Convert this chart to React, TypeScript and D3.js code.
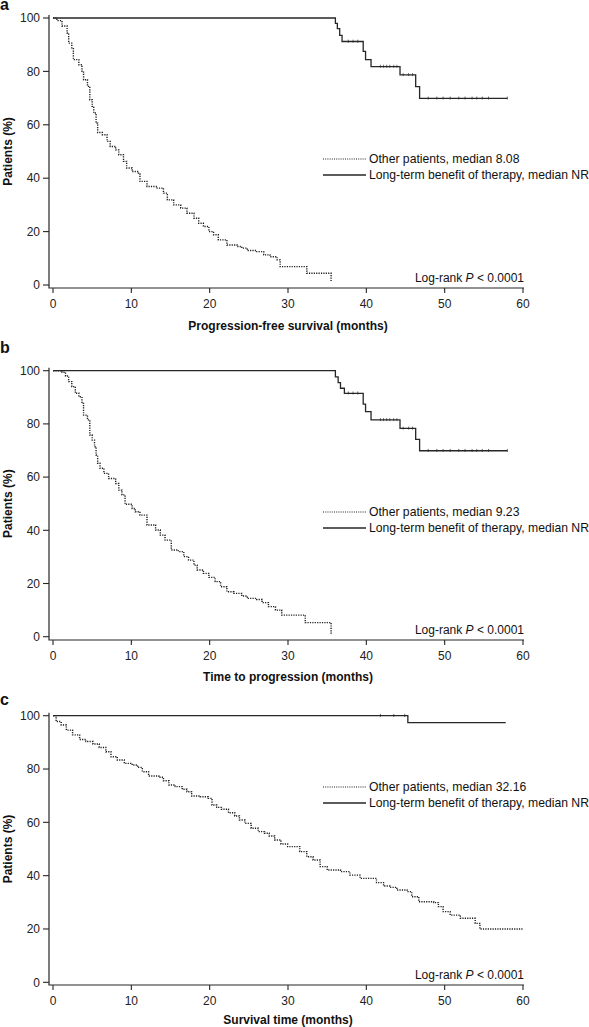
import React from "react";
import * as d3 from "d3";

// ---------- DATA ----------
const xTicks = [0, 10, 20, 30, 40, 50, 60];
const yTicks = [0, 20, 40, 60, 80, 100];

// Panel a: progression-free survival
const pfsOtherT = [0, 0.5, 1.15, 1.8, 2.0, 2.4, 2.6, 3.3, 3.7, 3.9, 4.4, 4.7, 5.0, 5.2, 5.5, 5.7, 6.3, 6.9, 7.3, 8.0, 8.4, 9.0, 9.4, 10.1, 10.9, 11.1, 12.0, 13.3, 14.1, 14.6, 15.4, 16.3, 17.1, 18.0, 18.6, 19.2, 19.9, 20.5, 21.1, 22.2, 23.5, 24.1, 24.8, 26.0, 26.9, 27.7, 28.6, 29.0, 32.4, 35.5];
const pfsOtherS = [100, 99, 97, 94.4, 90.6, 88.8, 84.4, 82.5, 80, 76.9, 74.4, 69.4, 66.9, 64.4, 60.6, 57.1, 56.3, 53.8, 51.9, 50.6, 48.8, 46.3, 43.8, 42.5, 41.6, 38.8, 36.9, 36.3, 34.4, 31.9, 30, 28.8, 26.9, 25, 23.1, 21.9, 20, 18.8, 16.9, 15, 14.4, 13.8, 12.9, 12.5, 11.3, 10.6, 9.4, 6.9, 4.4, 1.2];
const pfsLongT = [0, 36.05, 36.3, 36.6, 36.9, 39.6, 39.9, 40.6, 44.3, 46.3, 46.8, 58.0];
const pfsLongS = [100, 98, 96, 93.5, 91.2, 87.5, 84.4, 81.8, 78.7, 74.3, 69.9, 69.9];
const pfsLongCensor = [37.7, 38.3, 38.9, 41.8, 42.2, 42.6, 43.0, 43.5, 43.9, 44.7, 45.4, 45.9, 47.9, 49.0, 49.8, 50.7, 51.8, 52.6, 53.5, 54.1, 54.8, 55.6, 58.0];

// Panel b: time to progression
const ttpOtherT = [0, 1.15, 1.6, 2.0, 2.4, 2.85, 3.3, 3.7, 3.9, 4.4, 4.7, 5.0, 5.3, 5.5, 5.7, 6.0, 6.5, 7.1, 8.0, 8.4, 8.8, 9.2, 10.1, 10.5, 11.1, 12.0, 13.1, 13.7, 14.3, 15.1, 16.0, 16.7, 17.3, 18.0, 18.4, 19.2, 19.9, 20.7, 21.4, 22.2, 23.1, 24.1, 24.8, 26.0, 26.7, 27.5, 28.4, 29.2, 32.2, 35.5];
const ttpOtherS = [100, 99.4, 98, 95.9, 94, 91.5, 90.2, 87.7, 83.3, 81.5, 75.8, 73.9, 71.4, 68.3, 65.2, 63.3, 61.4, 59.5, 57.6, 55.1, 53.3, 49.8, 48.2, 47, 45.7, 42, 40.1, 38.2, 36.3, 32.6, 32, 30.1, 28.8, 26.9, 25.1, 23.8, 22.3, 20.7, 18.8, 16.9, 16.3, 15.3, 14.4, 14.0, 12.8, 11.3, 10.0, 8.1, 5.3, 0.6];
const ttpLongT = [0, 36.05, 36.4, 36.7, 37.2, 39.6, 39.9, 40.6, 44.3, 46.3, 46.8, 58.0];
const ttpLongS = [100, 97.7, 95.5, 93.4, 91.5, 87.4, 84.6, 81.5, 78.3, 74.2, 69.9, 69.9];
const ttpLongCensor = [37.7, 38.3, 38.9, 41.8, 42.2, 42.6, 43.0, 43.5, 43.9, 44.7, 45.4, 45.9, 47.9, 49.0, 49.8, 50.7, 51.8, 52.6, 53.5, 54.1, 54.8, 55.6, 58.0];

// Panel c: overall survival
const osOtherT = [0, 0.4, 1.05, 1.7, 2.5, 3.4, 4.2, 5.1, 5.9, 6.75, 7.4, 8.2, 9.1, 10.1, 10.8, 11.4, 12.2, 13.5, 14.1, 14.8, 15.6, 16.5, 17.1, 17.7, 18.8, 19.8, 20.3, 20.9, 21.5, 22.4, 23.2, 23.8, 24.5, 25.3, 26.2, 27.0, 27.6, 28.3, 29.1, 29.95, 31.5, 32.4, 33.2, 34.1, 35.0, 36.7, 37.9, 39.2, 41.3, 42.2, 43.0, 43.9, 45.2, 45.8, 46.7, 48.6, 49.2, 49.8, 50.7, 52.0, 53.9, 54.5, 60.0];
const osOtherS = [100, 97.8, 96.5, 94.6, 92.8, 91.1, 90.3, 89.4, 88.1, 86.5, 84.6, 83.4, 82.1, 81.5, 80.6, 79, 77.4, 76.9, 75.6, 74, 73.4, 72.4, 71.5, 69.9, 69.6, 69, 66.5, 65.6, 64.9, 63.6, 62.4, 60.9, 59.6, 57.8, 56.5, 55.9, 54.9, 53.4, 51.9, 50.9, 49, 47.1, 45.9, 43.4, 42.1, 41.5, 40.2, 39, 37.4, 36.1, 35.6, 34.6, 34.0, 32.1, 30.2, 29.9, 28.4, 26.5, 25.2, 24.0, 22.1, 20.0, 20.0];
const osLongT = [0, 45.3, 57.8];
const osLongS = [100, 97.4, 97.4];
const osLongCensor = [41.8, 43.5, 44.9];

const panelLetters = ["a", "b", "c"];
const axisTitles = ["Progression-free survival (months)", "Time to progression (months)", "Survival time (months)"];
const otherMedians = ["8.08", "9.23", "32.16"];
const seriesNames = ["Other patients, median ", "Long-term benefit of therapy, median NR"];

// ---------- LAYOUT ----------
const W = 589, H = 1027;
const FONT = "'Liberation Sans', Arial, Helvetica, sans-serif";
const INK = "#262626";

const layouts = [
  { top: 18, bottom: 285, axisY: 288, legendY: 159, letterY: 10, titleDy: 41.5 },
  { top: 370.7, bottom: 636.7, axisY: 640, legendY: 512, letterY: 353, titleDy: 40.5 },
  { top: 715.7, bottom: 982.3, axisY: 985, legendY: 787, letterY: 705, titleDy: 38.5 },
];

const panelData = [
  { oT: pfsOtherT, oS: pfsOtherS, lT: pfsLongT, lS: pfsLongS, c: pfsLongCensor },
  { oT: ttpOtherT, oS: ttpOtherS, lT: ttpLongT, lS: ttpLongS, c: ttpLongCensor },
  { oT: osOtherT, oS: osOtherS, lT: osLongT, lS: osLongS, c: osLongCensor },
];

const x = d3.scaleLinear().domain([0, 60]).range([53, 523]);

function stepValue(T: number[], S: number[], t: number) {
  let v = S[0];
  for (let i = 0; i < T.length; i++) if (T[i] <= t) v = S[i];
  return v;
}

function Panel({ idx }: { idx: number }) {
  const L = layouts[idx];
  const D = panelData[idx];
  const y = d3.scaleLinear().domain([0, 100]).range([L.bottom, L.top]);
  const line = d3
    .line<[number, number]>()
    .x((d) => x(d[0]))
    .y((d) => y(d[1]))
    .curve(d3.curveStepAfter);
  const other = line(D.oT.map((t, i) => [t, D.oS[i]] as [number, number])) || "";
  const long = line(D.lT.map((t, i) => [t, D.lS[i]] as [number, number])) || "";
  const axisX = 49;
  return (
    <g>
      <text x={0} y={L.letterY} fontFamily={FONT} fontWeight="bold" fontSize={16} fill="#111">
        {panelLetters[idx]}
      </text>
      {/* axes */}
      <path d={`M${axisX},${L.top - 3}V${L.axisY}H${x(60) + 1}`} fill="none" stroke={INK} strokeWidth={1.2} />
      {yTicks.map((t) => (
        <g key={"y" + t}>
          <line x1={axisX - 6} x2={axisX} y1={y(t)} y2={y(t)} stroke={INK} strokeWidth={1.1} />
          <text x={axisX - 9} y={y(t) + 4.2} textAnchor="end" fontFamily={FONT} fontSize={12} fill="#222">
            {t}
          </text>
        </g>
      ))}
      {xTicks.map((t) => (
        <g key={"x" + t}>
          <line x1={x(t)} x2={x(t)} y1={L.axisY} y2={L.axisY + 5} stroke={INK} strokeWidth={1.1} />
          <text x={x(t)} y={L.axisY + 20} textAnchor="middle" fontFamily={FONT} fontSize={12} fill="#222">
            {t}
          </text>
        </g>
      ))}
      <text
        x={(x(0) + x(60)) / 2}
        y={L.axisY + L.titleDy}
        textAnchor="middle"
        fontFamily={FONT}
        fontWeight="bold"
        fontSize={12}
        fill="#111"
      >
        {axisTitles[idx]}
      </text>
      <text
        transform={`translate(12,${(L.top + L.bottom) / 2}) rotate(-90)`}
        textAnchor="middle"
        fontFamily={FONT}
        fontWeight="bold"
        fontSize={12}
        fill="#111"
      >
        Patients (%)
      </text>
      {/* curves */}
      <path d={other} fill="none" stroke="#1e1e1e" strokeWidth={1.4} strokeDasharray="1.2,1.2" />
      <path d={long} fill="none" stroke={INK} strokeWidth={1.3} />
      {D.c.map((t, i) => {
        const v = stepValue(D.lT, D.lS, t);
        return <line key={"c" + i} x1={x(t)} x2={x(t)} y1={y(v) - 1.8} y2={y(v) + 1.2} stroke={INK} strokeWidth={0.7} />;
      })}
      {/* legend */}
      <line x1={323} x2={366} y1={L.legendY} y2={L.legendY} stroke="#222" strokeWidth={1.1} strokeDasharray="1,1.2" />
      <text x={369} y={L.legendY + 4.3} fontFamily={FONT} fontSize={12.2} fill="#111">
        {seriesNames[0] + otherMedians[idx]}
      </text>
      <line x1={323} x2={366} y1={L.legendY + 16} y2={L.legendY + 16} stroke={INK} strokeWidth={1.3} />
      <text x={369} y={L.legendY + 20.3} fontFamily={FONT} fontSize={12.2} fill="#111">
        {seriesNames[1]}
      </text>
      <text x={524} y={L.bottom - 3} textAnchor="end" fontFamily={FONT} fontSize={12} fill="#111">
        Log-rank <tspan fontStyle="italic">P</tspan> {"< 0.0001"}
      </text>
    </g>
  );
}

export default function App() {
  return (
    <svg
      width={W}
      height={H}
      viewBox={`0 0 ${W} ${H}`}
      style={{ position: "absolute", left: 0, top: 0, background: "#fff" }}
    >
      <rect width={W} height={H} fill="#fff" />
      {[0, 1, 2].map((i) => (
        <Panel key={i} idx={i} />
      ))}
    </svg>
  );
}
